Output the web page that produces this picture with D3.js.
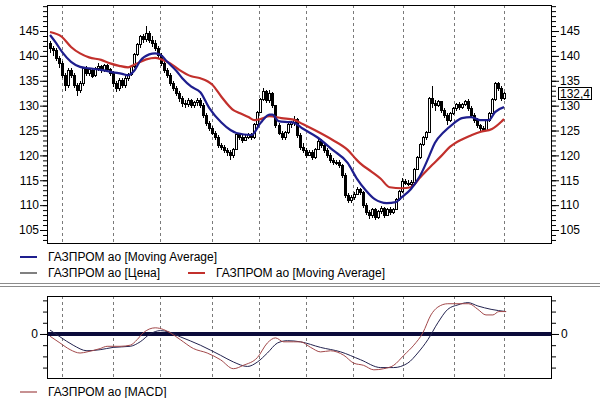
<!DOCTYPE html>
<html>
<head>
<meta charset="utf-8">
<script src="https://cdn.jsdelivr.net/npm/d3@7"></script>
<style>
  body { margin: 0; background: #fff; }
  svg { display: block; font-family: Arial, "Liberation Sans", sans-serif; }
</style>
</head>
<body>
<svg id="chart"></svg>
<script>
////////////////////////////////////////////////////////////////////////////////
//////////////////////////////////////////////////////////////////////// Data
////////////////////////////////////////////////////////////////////////////////

// daily candles: [open, high, low, close]
const ohlc = [
  [142.5,143,140.5,141.5],[141.5,142,140,141],[141,141.5,139,139.5],[139.5,140,137.5,138.5],
  [138.5,139,135.5,136],[136,136.5,133,134],[134,137.5,133.5,137],[137,137.5,135.5,136],
  [136,136.5,133.5,134],[134,134.5,132,133],[133,135,132.5,134.5],[134.5,137.8,134,137.5],
  [137.5,138,136,136.5],[136.5,137.5,136,137.2],[137,137.3,135.5,135.8],[136,137.8,135.8,137.4],
  [137.4,138.5,137,137.8],[137.8,138.2,136.5,137],[137,138.4,136.8,138],[138,138.3,136.8,137.2],
  [137.2,137.6,136,136.5],[136.5,137,133.8,134.5],[134.5,135,132.8,133.5],[133.5,135.5,133,135],
  [135,135.5,133.5,134],[134,136,133.5,135.5],[135.5,136.5,135,136.2],[136.2,138,136,137.8],
  [137.8,140.5,137.5,140.2],[140.2,142.5,140,142.2],[142.2,144.2,141.5,143.8],[143.8,144.5,142.5,143.2],
  [143.2,146,142.8,144.5],[144.5,145,142.5,143],[143,144,141.8,142.5],[142.5,143.2,141,141.5],
  [141.5,142,139.5,140],[140,140.5,138,138.5],[138.5,139,136.5,137],[137,137.5,135.5,136],
  [136,136.5,134,134.5],[134.5,135,133,133.5],[133.5,134,132,132.5],[132.5,133,130.8,131.5],
  [131.5,132,129.8,130.5],[130.5,131.2,129.5,130.2],[130.2,131.5,129.8,131],[131,131.4,129.5,130],
  [130,131,129.6,130.6],[130.6,131.5,130,131],[131,131.5,129.5,130],[130,130.5,127.5,128],
  [128,128.5,126,126.5],[126.5,127,125,125.5],[125.5,126,124,124.5],[124.5,125,123,123.5],
  [123.5,124,121.5,122],[122,122.5,121,121.5],[121.5,122,120.5,121],[121,121.5,119.8,120.5],
  [120.5,121,119,120],[120,121.5,119.5,121.2],[121.2,124.5,121,124.2],[124.2,124.5,123,123.5],
  [123.5,124,122.5,123],[123,124,122.8,123.6],[123.6,124.5,123.3,124.2],[124.2,124.5,123,123.5],
  [123.5,126.5,123.3,126.2],[126.2,129,126,128.7],[128.7,131.5,128.5,131.2],[131.2,133.5,131,132.8],
  [132.8,133.2,130.5,131],[131,133.2,130.5,132.4],[132.4,132.8,129.5,130],[130,130.2,125.5,126],
  [126,126.5,124,124.5],[124.5,125,123,123.5],[123.5,125,123,124.6],[124.6,126.5,124.3,126.2],
  [126.2,127,125.5,126.6],[126.6,128,126,127.2],[127.2,127.5,123.5,124],[124,124.5,121,121.5],
  [121.5,122.5,120.5,121],[121,121.5,119.5,120],[120,121,119.8,120.6],[120.6,121,119,119.5],
  [119.5,121.5,119.2,121.2],[121.2,123.3,121,122.8],[122.8,123.2,121.5,122],[122,122.4,120.5,121],
  [121,121.5,119.5,120],[120,120.5,118.5,119],[119,119.5,118,118.5],[118.5,119,118,118.6],
  [118.6,119,117.5,118],[118,118.3,115.5,116],[116,116.5,111.5,112],[112,112.5,110.5,111],
  [111,112,110.5,111.6],[111.6,112.6,111,112.2],[112.2,113.6,112,113.2],[113.2,113.5,112,112.5],
  [112.5,112.8,109.5,110],[110,110.5,108,108.5],[108.5,109,107.3,108],[108,109.5,107.5,109.2],
  [109.2,109.5,107,107.5],[107.5,109,107.2,108.7],[108.7,109.8,108.2,109.3],[109.3,109.6,107.5,108],
  [108,109.5,107.8,109.2],[109.2,109.6,108,108.5],[108.5,109.5,108.2,109.2],[109.2,111.5,109,111.2],
  [111.2,113,110.8,112.7],[112.7,115.5,112.5,114.7],[114.7,115.2,114,114.4],[114.4,115,113.8,114.2],
  [114.2,115,113.8,114.6],[114.6,117.5,114.4,117.2],[117.2,119.8,117,119.5],[119.5,122.5,119.2,122.2],
  [122.2,123.8,121.8,123.5],[123.5,125,123,124.7],[124.7,131.8,124.5,131.5],[131.5,134,129.5,130.5],
  [130.5,131.2,129,130],[130,131.2,129.8,130.8],[130.8,131,128.5,129],[129,129.5,127.5,128],
  [128,128.5,126.2,127],[127,128.8,126.8,128.5],[128.5,129.8,128.2,129.5],[129.5,130.5,129,130.2],
  [130.2,130.7,129.2,129.6],[129.6,130.6,129.3,130.3],[130.3,131.2,130,130.8],[130.8,131.3,129,129.5],
  [129.5,130,127.5,128],[128,128.5,126.5,127],[127,127.5,125.5,126],[126,126.3,125,125.4],
  [125.4,126,124.8,125.1],[125.1,127.3,125,127],[127,128.8,126.8,128.5],[128.5,131.5,128.3,131.2],
  [131.2,134.8,131,134.5],[134.5,134.8,133,133.5],[133.5,134,131,131.5],[131.5,132.7,131.2,132.4]
];

// moving averages: [day, value]
const shortMa = [
  [0,144.2],[2,142.6],[4,140.8],[7,138.8],[10,137.8],[13,137.5],[17,137.2],[21,136.7],
  [24,136.4],[26,136.1],[28,137],[30,139],[33,140.3],[35,140.5],[37,140.1],[39,138.8],
  [42,137],[44,135.5],[47,133.8],[50,132.7],[53,129.5],[57,126.6],[60,125.1],[62,124.5],
  [67,124.1],[70,126.5],[73,128.2],[74,128.2],[76,126.9],[79,126.7],[81,126.6],[84,125.4],
  [89,123.6],[94,121.1],[99,118.5],[102,115.4],[105,113],[108,111.2],[112,110.4],[115,110.6],
  [117,111.6],[120,113.2],[123,115.8],[126,119.7],[128,122.5],[131,124.7],[134,126.3],[137,127.5],
  [140,127.7],[143,127.1],[146,127.1],[148,128.7],[151,129.7]
];
const longMa = [
  [0,144.8],[4,143.8],[7,141.8],[10,140.5],[13,139.7],[17,139.2],[20,138.5],[23,138],
  [26,137.7],[28,138.2],[32,139.3],[35,139.6],[37,139.3],[40,138.5],[43,137.2],[47,135.9],
  [50,135.5],[54,134.2],[57,131.8],[61,129.1],[63,128.5],[66,127.7],[68,127.1],[70,127.3],
  [73,127.9],[77,127.5],[81,127.2],[84,126.3],[88,125.1],[94,123.1],[99,121.1],[102,119.1],
  [103,118.5],[107,116.7],[110,115.3],[113,113.6],[117,113.4],[120,113.6],[123,115.5],[127,118],
  [130,119.8],[133,121.7],[137,123.2],[140,124],[143,124.7],[147,125.3],[150,126.7],[151,127.3]
];

// MACD panel: [day, value]
const macdLine = [
  [0,-0.2],[3.3,-0.8],[6.7,-1.4],[10,-1.7],[12.3,-1.6],[16.7,-1.3],[19,-1.1],[23.3,-1.1],
  [26.7,-1.0],[29,-0.5],[31,0.1],[35,0.55],[37.7,0.4],[40,0.1],[43.3,-0.5],[47.7,-1.3],
  [52.3,-1.7],[56.7,-2.3],[61,-3.1],[64.3,-2.8],[69,-2.1],[72.3,-0.8],[75,-0.35],[77.7,-0.7],
  [81,-0.7],[83.3,-0.7],[86.7,-1.2],[90,-1.6],[93.3,-1.5],[97.7,-1.9],[101,-2.6],[104.3,-2.8],
  [107.7,-3.2],[111,-3.1],[114.3,-2.8],[117.7,-1.9],[121,-1.0],[124,0.1],[126.7,1.7],[129,2.4],
  [132.3,2.7],[136.7,2.7],[139.3,2.7],[142.3,2.2],[145,1.7],[147.3,1.7],[149.3,2.0],[151.7,2.0]
];
const signalLine = [
  [0,0.35],[3.3,-0.25],[7.7,-1.0],[12.3,-1.5],[16.7,-1.4],[21,-1.2],[26.7,-1.1],[30,-0.7],
  [33.3,0],[36.7,0.3],[39.3,0.2],[43.3,-0.25],[50,-1.0],[56.7,-1.9],[61,-2.5],[65.7,-2.9],
  [69,-2.5],[72.3,-1.7],[75.7,-0.8],[79,-0.6],[83.3,-0.7],[90,-1.2],[96.7,-1.6],[103.3,-2.3],
  [110,-3.0],[114.3,-3.0],[119,-2.6],[122.3,-1.7],[125.7,-0.5],[129,1.0],[132.3,2.2],[135.7,2.6],
  [139,2.8],[142.3,2.5],[146.7,2.2],[151.7,2.0]
];

// month separators (day index) and axis ticks
const monthDays = [4, 21, 36.6, 53.9, 69.5, 85.1, 100.8, 117.4, 134.4, 151];
const priceTicks = [105, 110, 115, 120, 125, 130, 135, 140, 145];
const priceMinorTicks = d3.range(103, 151);
const macdTicks = [-3, -2, -1, 0, 1, 2, 3];

const legendMain = ["ГАЗПРОМ ао [Moving Average]", "ГАЗПРОМ ао [Цена]", "ГАЗПРОМ ао [Moving Average]"];
const legendMacd = "ГАЗПРОМ ао [MACD]";

////////////////////////////////////////////////////////////////////////////////
////////////////////////////////////////////////////////////////////// Layout
////////////////////////////////////////////////////////////////////////////////

const width = 600;
const height = 398;
const main = { left: 47, right: 552, top: 5, bottom: 243 };
const lower = { left: 47, right: 552, top: 296, bottom: 378 };

const colors = {
  shortMa: "#1e1e8e",
  longMa: "#c2302c",
  price: "#3c3c3c",
  macd: "#a2484a",
  signal: "#23234f",
  zero: "#0b0b3a",
  grid: "#7a7a7a"
};

const svg = d3.select("#chart")
              .attr("width", width)
              .attr("height", height);

svg.append("rect")
     .attr("width", width)
     .attr("height", height)
     .attr("fill", "#fff");

const xScale = d3.scaleLinear()
                 .domain([0, 151])
                 .range([50, 504]);

const yScale = d3.scaleLinear()
                 .domain([102.39, 150.23])
                 .range([main.bottom, main.top]);

const macdScale = d3.scaleLinear()
                    .domain([-3.93, 3.39])
                    .range([lower.bottom, lower.top]);

function px(v) {
  return Math.round(v) + 0.5;
}

// dashed month lines
function drawGrid(box) {
  svg.append("g")
     .selectAll("line")
     .data(monthDays)
     .join("line")
       .attr("x1", d => px(xScale(d)))
       .attr("x2", d => px(xScale(d)))
       .attr("y1", box.top)
       .attr("y2", box.bottom)
       .attr("stroke", colors.grid)
       .attr("stroke-dasharray", "3,3");
}

function styleAxis(g) {
  g.select(".domain").remove();
  g.attr("font-size", 12).attr("font-family", null);
  g.selectAll("text").attr("fill", "#000");
}

////////////////////////////////////////////////////////////////////////////////
////////////////////////////////////////////////////////////////// Price panel
////////////////////////////////////////////////////////////////////////////////

drawGrid(main);

// Y axes, left and right
[["left", main.left], ["right", main.right]].forEach(function(side) {
  const minor = side[0] == "left" ? d3.axisLeft(yScale) : d3.axisRight(yScale);
  const major = side[0] == "left" ? d3.axisLeft(yScale) : d3.axisRight(yScale);
  svg.append("g")
       .attr("transform", `translate(${side[1]},0)`)
       .call(minor.tickValues(priceMinorTicks).tickSize(4).tickFormat(""))
       .call(styleAxis);
  svg.append("g")
       .attr("transform", `translate(${side[1]},0)`)
       .call(major.tickValues(priceTicks).tickSize(7).tickPadding(1))
       .call(styleAxis);
});

// candles
const candles = svg.append("g")
                   .attr("shape-rendering", "crispEdges")
                   .selectAll("g")
                   .data(ohlc)
                   .join("g");

candles.append("line")
         .attr("x1", (d, i) => px(xScale(i)))
         .attr("x2", (d, i) => px(xScale(i)))
         .attr("y1", d => yScale(d[1]))
         .attr("y2", d => yScale(d[2]))
         .attr("stroke", "#000");

candles.append("rect")
         .attr("x", (d, i) => Math.round(xScale(i)) - 0.5)
         .attr("width", 2)
         .attr("y", d => yScale(Math.max(d[0], d[3])))
         .attr("height", d => Math.max(1, Math.abs(yScale(d[0]) - yScale(d[3]))))
         .attr("fill", d => d[3] > d[0] ? "#fff" : "#000")
         .attr("stroke", "#000");

// moving averages
const maLine = d3.line()
                 .x(d => xScale(d[0]))
                 .y(d => yScale(d[1]))
                 .curve(d3.curveMonotoneX);

svg.append("path")
     .attr("d", maLine(longMa))
     .attr("fill", "none")
     .attr("stroke", colors.longMa)
     .attr("stroke-width", 2.2);

svg.append("path")
     .attr("d", maLine(shortMa))
     .attr("fill", "none")
     .attr("stroke", colors.shortMa)
     .attr("stroke-width", 2.2);

// frame
svg.append("rect")
     .attr("x", main.left + 0.5)
     .attr("y", main.top + 0.5)
     .attr("width", main.right - main.left - 1)
     .attr("height", main.bottom - main.top)
     .attr("fill", "none")
     .attr("stroke", "#000");

// last price label
const lastClose = ohlc[ohlc.length - 1][3];
const lastY = yScale(lastClose);
svg.append("rect")
     .attr("x", 558.5)
     .attr("y", Math.round(lastY) - 6.5)
     .attr("width", 33)
     .attr("height", 12)
     .attr("fill", "#fff")
     .attr("stroke", "#000");
svg.append("text")
     .attr("x", 575)
     .attr("y", lastY - 0.5)
     .attr("dy", "0.36em")
     .attr("text-anchor", "middle")
     .attr("font-size", 12)
     .text(lastClose.toFixed(1).replace(".", ","));

// legend
const legendRows = [
  { x: 20, y: 257, color: colors.shortMa, w: 2, label: legendMain[0] },
  { x: 20, y: 273, color: colors.price, w: 1.3, label: legendMain[1] },
  { x: 188, y: 273, color: colors.longMa, w: 2, label: legendMain[2] }
];

legendRows.forEach(function(d) {
  svg.append("line")
       .attr("x1", d.x)
       .attr("x2", d.x + 17)
       .attr("y1", d.y)
       .attr("y2", d.y)
       .attr("stroke", d.color)
       .attr("stroke-width", d.w);
  svg.append("text")
       .attr("x", d.x + 28)
       .attr("y", d.y)
       .attr("dy", "0.36em")
       .attr("font-size", 12)
       .text(d.label);
});

// splitter between panels
svg.append("line")
     .attr("x1", 0).attr("x2", width)
     .attr("y1", 283.5).attr("y2", 283.5)
     .attr("stroke", "#8c8c8c");
svg.append("line")
     .attr("x1", 0).attr("x2", width)
     .attr("y1", 286.5).attr("y2", 286.5)
     .attr("stroke", "#8c8c8c");

////////////////////////////////////////////////////////////////////////////////
/////////////////////////////////////////////////////////////////// MACD panel
////////////////////////////////////////////////////////////////////////////////

drawGrid(lower);

[["left", lower.left], ["right", lower.right]].forEach(function(side) {
  const minor = side[0] == "left" ? d3.axisLeft(macdScale) : d3.axisRight(macdScale);
  const major = side[0] == "left" ? d3.axisLeft(macdScale) : d3.axisRight(macdScale);
  svg.append("g")
       .attr("transform", `translate(${side[1]},0)`)
       .call(minor.tickValues(macdTicks).tickSize(4).tickFormat(""))
       .call(styleAxis);
  svg.append("g")
       .attr("transform", `translate(${side[1]},0)`)
       .call(major.tickValues([0]).tickSize(7).tickPadding(2))
       .call(styleAxis);
});

svg.append("line")
     .attr("x1", lower.left)
     .attr("x2", lower.right)
     .attr("y1", macdScale(0))
     .attr("y2", macdScale(0))
     .attr("stroke", colors.zero)
     .attr("stroke-width", 4);

const macdPath = d3.line()
                   .x(d => xScale(d[0]))
                   .y(d => macdScale(d[1]))
                   .curve(d3.curveMonotoneX);

svg.append("path")
     .attr("d", macdPath(signalLine))
     .attr("fill", "none")
     .attr("stroke", colors.signal)
     .attr("stroke-width", 1);

svg.append("path")
     .attr("d", macdPath(macdLine))
     .attr("fill", "none")
     .attr("stroke", colors.macd)
     .attr("stroke-width", 1);

svg.append("rect")
     .attr("x", lower.left + 0.5)
     .attr("y", lower.top + 0.5)
     .attr("width", lower.right - lower.left - 1)
     .attr("height", lower.bottom - lower.top)
     .attr("fill", "none")
     .attr("stroke", "#000");

svg.append("line")
     .attr("x1", 20)
     .attr("x2", 37)
     .attr("y1", 392)
     .attr("y2", 392)
     .attr("stroke", colors.macd)
     .attr("stroke-width", 1.2);
svg.append("text")
     .attr("x", 48)
     .attr("y", 392)
     .attr("dy", "0.36em")
     .attr("font-size", 12)
     .text(legendMacd);
</script>
</body>
</html>
